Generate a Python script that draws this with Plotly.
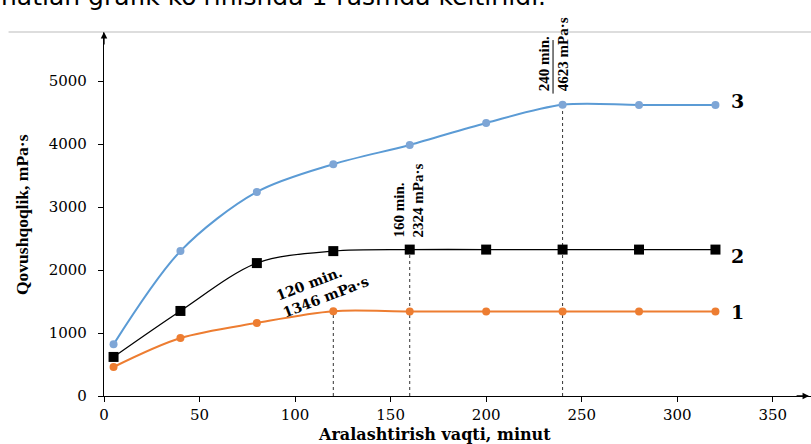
import plotly.graph_objects as go

time_min = [5, 40, 80, 120, 160, 200, 240, 280, 320]
visc_1 = [460, 920, 1160, 1346, 1340, 1340, 1340, 1340, 1340]
visc_2 = [620, 1350, 2110, 2300, 2324, 2324, 2324, 2324, 2324]
visc_3 = [820, 2300, 3240, 3680, 3985, 4335, 4623, 4620, 4620]

x_ticks = [0, 50, 100, 150, 200, 250, 300, 350]
y_ticks = [0, 1000, 2000, 3000, 4000, 5000]

mark_times = [120, 160, 240]
mark_values = [1346, 2324, 4623]

SERIF = "Liberation Serif"
WIDE_SERIF = "DejaVu Serif"
BLUE = "#5B9BD5"
ORANGE = "#ED7D31"

fig = go.Figure()

fig.add_trace(go.Scatter(x=time_min, y=visc_3, mode="lines+markers",
                         line=dict(color=BLUE, width=2, shape="spline", smoothing=0.9),
                         marker=dict(symbol="circle", size=8, color="#7EA6D6"), showlegend=False))
fig.add_trace(go.Scatter(x=time_min, y=visc_2, mode="lines+markers",
                         line=dict(color="black", width=1.3, shape="spline", smoothing=0.9),
                         marker=dict(symbol="square", size=10, color="black"), showlegend=False))
fig.add_trace(go.Scatter(x=time_min, y=visc_1, mode="lines+markers",
                         line=dict(color=ORANGE, width=2, shape="spline", smoothing=0.9),
                         marker=dict(symbol="circle", size=8, color=ORANGE), showlegend=False))

# dashed drop lines
for t, v in zip(mark_times, mark_values):
    fig.add_shape(type="line", x0=t, x1=t, y0=0, y1=v, xref="x", yref="y",
                  line=dict(color="#333", width=1, dash="dot"), layer="below")

# solid fraction bar for 240 label
fig.add_shape(type="line", x0=mark_times[2] - 5, x1=mark_times[2] - 5, y0=4800, y1=5650,
              xref="x", yref="y", line=dict(color="black", width=1))

ann_font = dict(family=SERIF, size=15, color="black")

fig.add_annotation(x=mark_times[2], y=4800, xref="x", yref="y", xshift=-9,
                   text="<b>240 min.<br>%d mPa·s</b>" % mark_values[2], textangle=-90,
                   showarrow=False, align="left", xanchor="center", yanchor="bottom",
                   font=ann_font)
fig.add_annotation(x=mark_times[1], y=2480, xref="x", yref="y", xshift=-1,
                   text="<b>160 min.<br>%d mPa·s</b>" % mark_values[1], textangle=-90,
                   showarrow=False, align="left", xanchor="center", yanchor="bottom",
                   font=ann_font)
fig.add_annotation(x=114.6, y=1714, xref="x", yref="y",
                   text="<b>120 min.<br>%d mPa·s</b>" % mark_values[0], textangle=-21,
                   showarrow=False, align="left", xanchor="center", yanchor="middle",
                   font=dict(family=WIDE_SERIF, size=14, color="black"))

# series labels
lab_font = dict(family=WIDE_SERIF, size=19, color="black")
for lab, series, ys in (("3", visc_3, 4), ("2", visc_2, -6), ("1", visc_1, 0)):
    fig.add_annotation(x=time_min[-1], y=series[-1], xref="x", yref="y", xshift=14, yshift=ys,
                       text="<b>%s</b>" % lab, showarrow=False, xanchor="left", yanchor="middle",
                       font=lab_font)

# axis arrows
fig.add_annotation(x=369, y=0, xref="x", yref="y", ax=-14, ay=0, text="", showarrow=True,
                   arrowhead=2, arrowsize=1, arrowwidth=1.3, arrowcolor="black")
fig.add_annotation(x=0, y=5778, xref="x", yref="y", ax=0, ay=14, text="", showarrow=True,
                   arrowhead=2, arrowsize=1, arrowwidth=1.3, arrowcolor="black")

# axis titles
fig.add_annotation(x=0.468, y=-0.137, xref="paper", yref="paper", yanchor="bottom",
                   text="<b>Aralashtirish vaqti, minut</b>", showarrow=False,
                   font=dict(family=WIDE_SERIF, size=16, color="black"))
fig.add_annotation(x=-0.116, y=0.50, xref="paper", yref="paper", xanchor="center", yanchor="middle",
                   text="<b>Qovushqoqlik, mPa·s</b>", showarrow=False, textangle=-90,
                   font=dict(family=SERIF, size=17.5, color="black"))

# top page remnants: gray rule and cut-off text line
fig.add_shape(type="line", xref="paper", yref="paper", x0=-0.135, x1=1.0,
              y0=1.0, y1=1.0, line=dict(color="#bbbbbb", width=1.2))
fig.add_annotation(x=-0.148, y=1.052, xref="paper", yref="paper", xanchor="left", yanchor="bottom",
                   text="natian grafik ko'rinishda 1-rasmda keltirildi.", showarrow=False,
                   font=dict(family="DejaVu Sans", size=25, color="black"))

tick_font = dict(family=WIDE_SERIF, size=15, color="black")
fig.update_xaxes(range=[0, 370], tickvals=x_ticks, showline=True, linecolor="black", linewidth=1.2,
                 ticks="outside", ticklen=5, tickcolor="black", showgrid=False, zeroline=False,
                 tickfont=tick_font)
fig.update_yaxes(range=[0, 5778], tickvals=y_ticks, showline=True, linecolor="black", linewidth=1.2,
                 ticks="outside", ticklen=5, tickcolor="black", showgrid=False, zeroline=False,
                 tickfont=tick_font, ticklabelstandoff=8)

fig.update_layout(width=811, height=444, margin=dict(l=104, r=0, t=32, b=48),
                  plot_bgcolor="white", paper_bgcolor="white",
                  font=dict(family=WIDE_SERIF, color="black"))

fig.write_html("out.html")
